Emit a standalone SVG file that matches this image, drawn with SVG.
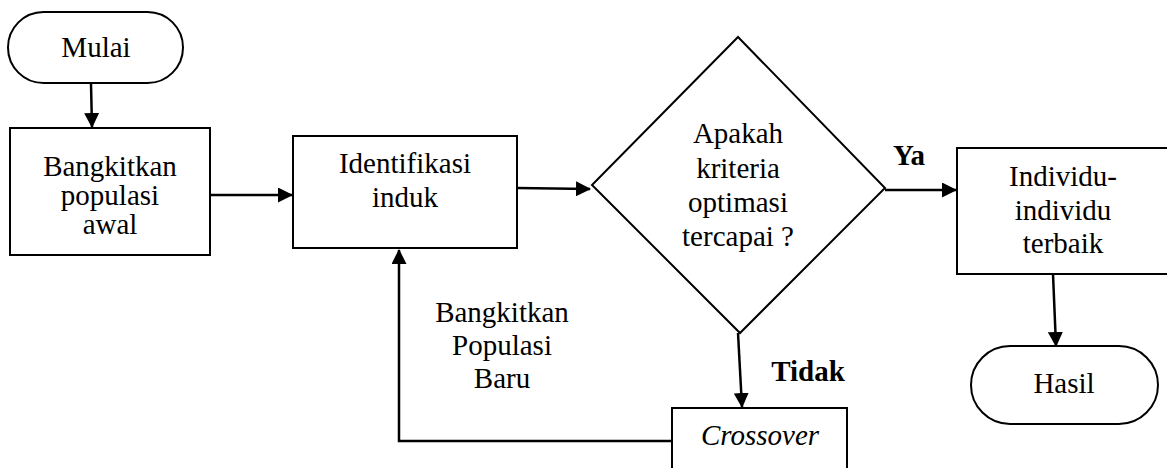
<svg xmlns="http://www.w3.org/2000/svg" width="1167" height="468" viewBox="0 0 1167 468">
<style>
.s{fill:#fff;stroke:#000;stroke-width:2}
.t{font-family:'Liberation Serif','Times New Roman','DejaVu Serif',serif;font-size:29px;fill:#000;text-anchor:middle}
.b{font-weight:bold}
.i{font-style:italic}
.c{fill:none;stroke:#000;stroke-width:2.5}
</style>
<defs>
<marker id="ah" markerWidth="15" markerHeight="15" refX="14" refY="7.5" orient="auto" markerUnits="userSpaceOnUse" viewBox="0 0 15 15">
<path d="M0,0 L15,7.5 L0,15 z" fill="#000"/>
</marker>
</defs>
<g id="connectors">
<line class="c" x1="91" y1="84" x2="92" y2="127" marker-end="url(#ah)"/>
<line class="c" x1="211" y1="195" x2="292" y2="195" marker-end="url(#ah)"/>
<line class="c" x1="517" y1="188" x2="590" y2="189" marker-end="url(#ah)"/>
<line class="c" x1="885" y1="190" x2="956" y2="190" marker-end="url(#ah)"/>
<line class="c" x1="738" y1="333" x2="742" y2="407" marker-end="url(#ah)"/>
<polyline class="c" points="672,441 399,441 399,250" marker-end="url(#ah)"/>
<line class="c" x1="1053" y1="274" x2="1056" y2="346" marker-end="url(#ah)"/>
</g>
<g id="mulai">
<rect class="s" x="8" y="12" width="175" height="71" rx="35.5"/>
<text class="t" x="96" y="57">Mulai</text>
</g>
<g id="bangkitkan">
<rect class="s" x="10" y="128" width="200" height="127"/>
<text class="t" x="110" y="176">Bangkitkan</text>
<text class="t" x="110" y="205">populasi</text>
<text class="t" x="110" y="234">awal</text>
</g>
<g id="identifikasi">
<rect class="s" x="293" y="136" width="224" height="112"/>
<text class="t" x="405" y="173">Identifikasi</text>
<text class="t" x="405" y="207">induk</text>
</g>
<g id="keputusan">
<polygon class="s" points="738,37 885,188 740,333 592,185"/>
<text class="t" x="738" y="143">Apakah</text>
<text class="t" x="738" y="178">kriteria</text>
<text class="t" x="738" y="212">optimasi</text>
<text class="t" x="738" y="246">tercapai ?</text>
</g>
<g id="individu">
<rect class="s" x="957" y="148" width="230" height="126"/>
<text class="t" x="1063" y="186">Individu-</text>
<text class="t" x="1063" y="220">individu</text>
<text class="t" x="1063" y="253">terbaik</text>
</g>
<g id="hasil">
<rect class="s" x="971" y="346" width="187" height="78" rx="39"/>
<text class="t" x="1064" y="393">Hasil</text>
</g>
<g id="crossover">
<rect class="s" x="672" y="408" width="175" height="80"/>
<text class="t i" x="760" y="445">Crossover</text>
</g>
<g id="labels">
<text class="t b" x="909" y="165">Ya</text>
<text class="t b" x="808" y="381">Tidak</text>
<text class="t" x="502" y="322">Bangkitkan</text>
<text class="t" x="502" y="355">Populasi</text>
<text class="t" x="502" y="388">Baru</text>
</g>
</svg>
